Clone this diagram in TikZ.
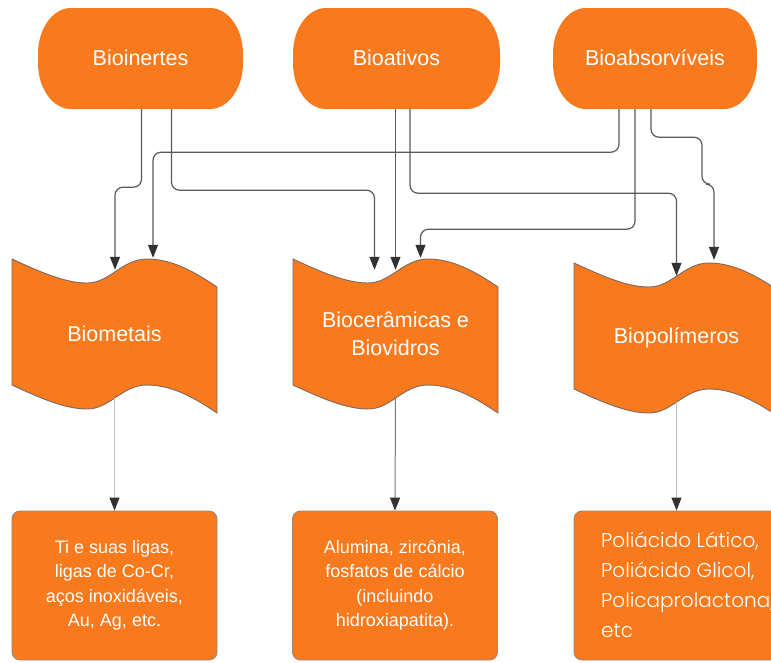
\documentclass[tikz,border=0pt]{standalone}
\usepackage{fontspec}
\setmainfont{Liberation Sans}
\IfFontExistsTF{Poppins Light}{\newfontfamily\handfont{Poppins Light}}{\newfontfamily\handfont{Poppins}}
\usetikzlibrary{arrows.meta}
\definecolor{orng}{RGB}{249,121,29}
\definecolor{linegray}{RGB}{90,90,90}
\definecolor{tipgray}{RGB}{50,50,50}
\definecolor{lightline}{RGB}{190,190,190}
\definecolor{midline}{RGB}{120,120,120}
\definecolor{edgegray}{RGB}{125,105,95}
\tikzset{
  conn/.style={draw=linegray, line width=1.2pt, rounded corners=8pt,
    -{Triangle[length=13pt,width=10pt,color=tipgray]}},
  downconn/.style={line width=1pt, -{Triangle[length=13pt,width=10pt,color=tipgray]}},
  toptext/.style={text=white, font=\fontsize{21.5}{26}\selectfont, inner sep=0pt,
    minimum width=205pt, minimum height=102pt},
  wavetext/.style={text=white, font=\fontsize{21.5}{28}\selectfont, align=center, inner sep=0pt,
    minimum width=205pt, minimum height=128pt},
  boxnode/.style={fill=orng, draw=edgegray!80, line width=0.9pt, rounded corners=8pt,
    minimum width=205pt, minimum height=149pt, inner sep=0pt, text=white, align=center,
    font=\fontsize{18}{24.5}\selectfont},
  waveshape/.style={fill=orng, draw=edgegray, line width=0.9pt},
}
\newcommand\mystadium[4]{%
  \fill[orng] (#2+33,8) -- (#3-33,8)
    arc[start angle=270,end angle=360,x radius=33,y radius=46] -- (#3,63)
    arc[start angle=0,end angle=90,x radius=33,y radius=46] -- (#2+33,109)
    arc[start angle=90,end angle=180,x radius=33,y radius=46] -- (#2,54)
    arc[start angle=180,end angle=270,x radius=33,y radius=46] -- cycle;
  \node[toptext] (#1) at ({(#2+#3)/2},58) {#4};
}
% #1 name, #2 left x, #3 top-left y, #4 text ; wave height 126
\newcommand\mywave[4]{%
  \filldraw[waveshape] (#2,#3)
    .. controls (#2+28,#3+13) and (#2+53,#3+24) .. (#2+75,#3+24)
    .. controls (#2+98,#3+24) and (#2+110,#3) .. (#2+135,#3)
    .. controls (#2+160,#3) and (#2+183,#3+13) .. (#2+205,#3+28)
    -- (#2+205,#3+154)
    .. controls (#2+183,#3+139) and (#2+160,#3+126) .. (#2+135,#3+126)
    .. controls (#2+110,#3+126) and (#2+98,#3+150) .. (#2+75,#3+150)
    .. controls (#2+53,#3+150) and (#2+28,#3+139) .. (#2,#3+126) -- cycle;
  \node[wavetext] (#1) at (#2+102.5,#3+75) {#4};
}
\begin{document}
\begin{tikzpicture}[x=1pt,y=-1pt]
\useasboundingbox (0,0) rectangle (771,662);
\clip (0,0) rectangle (771,662);
\fill[white] (0,0) rectangle (771,662);

\mystadium{bioin}{38}{243}{Bioinertes}
\mystadium{bioat}{293}{500}{Bioativos}
\mystadium{bioabs}{553}{757}{Bioabsorvíveis}

\mywave{metais}{12}{259}{Biometais}
\mywave{biocer}{293}{259}{Biocerâmicas e\\Biovidros}
\mywave{biopol}{574}{263}{Biopolímeros}

\node[boxnode] (box1) at (114.5,585.5) {Ti e suas ligas,\\ligas de Co-Cr,\\aços inoxidáveis,\\Au, Ag, etc.};
\node[boxnode] (box2) at (395,585.5) {Alumina, zircônia,\\fosfatos de cálcio\\(incluindo\\hidroxiapatita).};
\node[boxnode] (box3) at (676.5,585.5) {};
\node[anchor=north west, inner sep=0pt, text=white, align=left,
  font=\handfont\fontsize{20}{30}\selectfont] (box3txt) at (601,532)
  {Poliácido Lático,\\Poliácido Glicol,\\Policaprolactona,\\etc};

% connectors from top
\draw[conn] ([xshift=1pt]bioin.south) -- ++(0,78) -| ([xshift=0.5pt]metais.north);
\draw[conn] ([xshift=31pt]bioin.south) -- ++(0,81) -| ([xshift=-21pt]biocer.north);
\draw[conn] ([xshift=-36pt]bioabs.south) -- ++(0,43) -| ([xshift=38.5pt,yshift=12pt]metais.north);
\draw[conn] (biocer.north |- bioat.south) -- (biocer.north);
\draw[conn] ([xshift=13.5pt]bioat.south) -- ++(0,84) -| ([yshift=-2pt]biopol.north);
\draw[conn] ([xshift=-20pt]bioabs.south) -- ++(0,120) -| ([xshift=25pt,yshift=12pt]biocer.north);
\draw[conn] ([xshift=-4pt]bioabs.south) -- ++(0,28) -- ++(51,0) -- ++(0,47) -- ++(12,0)
  -- ([xshift=37.5pt,yshift=14pt]biopol.north);

% connectors down
\draw[downconn, draw=lightline] (metais.south) -- (box1.north);
\draw[downconn, draw=midline] (biocer.south) -- (box2.north);
\draw[downconn, draw=lightline] (biopol.south) -- (box3.north);
\end{tikzpicture}
\end{document}
